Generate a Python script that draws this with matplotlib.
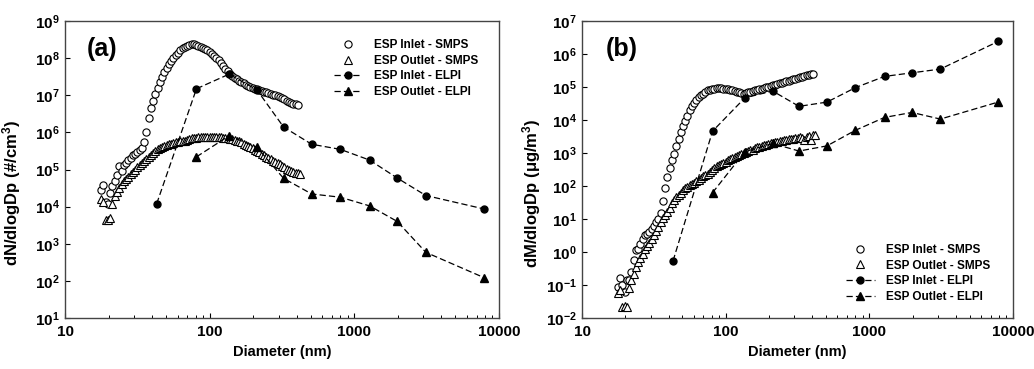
import matplotlib
matplotlib.use("Agg")
import matplotlib.pyplot as plt
from matplotlib.ticker import FuncFormatter, LogLocator, NullFormatter

plt.rcParams['font.family'] = ['Liberation Sans', 'DejaVu Sans']
plt.rcParams['font.weight'] = 'bold'
plt.rcParams['axes.labelweight'] = 'bold'
plt.rcParams['mathtext.fontset'] = 'custom'
plt.rcParams['mathtext.rm'] = 'Liberation Sans:bold'
plt.rcParams['mathtext.bf'] = 'Liberation Sans:bold'
plt.rcParams['mathtext.default'] = 'bf'

# SMPS channel diameters (nm)
smps_d = [17.7, 18.4, 19.1, 19.8, 20.5, 21.2, 22.0, 22.9, 23.7, 24.6,
          25.5, 26.4, 27.4, 28.4, 29.4, 30.5, 31.6, 32.8, 34.0, 35.2,
          36.5, 37.9, 39.2, 40.7, 42.2, 43.7, 45.3, 47.0, 48.7, 50.5,
          52.3, 54.2, 56.2, 58.3, 60.4, 62.6, 64.9, 67.3, 69.8, 72.3,
          75.0, 77.7, 80.6, 83.5, 86.6, 89.8, 93.1, 96.5, 100.0, 103.7,
          107.5, 111.4, 115.5, 119.7, 124.1, 128.6, 133.2, 138.2, 143.3, 148.6,
          154.0, 159.6, 165.5, 171.5, 177.8, 184.4, 191.1, 198.1, 205.4, 212.9,
          220.7, 228.8, 237.2, 245.8, 254.8, 264.2, 273.8, 283.9, 294.3, 305.1,
          316.2, 327.8, 339.8, 352.3, 365.2, 378.6, 392.4, 406.8, 421.7]

# ELPI stage diameters (nm)
elpi_d = [43, 81, 136, 212, 324, 507, 800, 1275, 1980, 3120, 7870]

# (a) number distributions, dN/dlogDp (#/cm3)
n_in_smps = [2.8e4, 3.8e4, 1.3e4, 1.2e4, 2.3e4, 3.5e4, 5.0e4, 7.0e4, 1.26e5, 9.0e4,
             1.3e5, 1.5e5, 1.8e5, 2.1e5, 2.4e5, 2.6e5, 3.0e5, 3.4e5, 3.9e5, 5.5e5,
             1.0e6, 2.5e6, 4.5e6, 7.0e6, 1.1e7, 1.6e7, 2.3e7, 3.2e7, 4.2e7, 5.3e7,
             6.8e7, 8.3e7, 1.0e8, 1.2e8, 1.4e8, 1.65e8, 1.85e8, 2.0e8, 2.15e8, 2.3e8,
             2.35e8, 2.35e8, 2.25e8, 2.15e8, 2.05e8, 1.9e8, 1.8e8, 1.65e8, 1.5e8, 1.3e8,
             1.15e8, 1.0e8, 8.7e7, 7.6e7, 6.3e7, 5.2e7, 4.4e7, 3.7e7, 3.3e7, 2.95e7,
             2.7e7, 2.45e7, 2.3e7, 2.1e7, 1.95e7, 1.8e7, 1.7e7, 1.6e7, 1.5e7, 1.45e7,
             1.38e7, 1.32e7, 1.26e7, 1.2e7, 1.15e7, 1.1e7, 1.05e7, 1.0e7, 9.5e6, 9.1e6,
             8.3e6, 7.8e6, 7.2e6, 6.8e6, 6.3e6, 6.0e6, 5.8e6, 5.4e6]
n_out_smps = [1.6e4, 1.3e4, 4.5e3, 4.3e3, 5.0e3, 1.2e4, 2.0e4, 2.5e4, 3.2e4, 4.0e4,
              4.8e4, 5.6e4, 6.5e4, 7.6e4, 8.7e4, 1.0e5, 1.15e5, 1.3e5, 1.5e5, 1.7e5,
              1.9e5, 2.15e5, 2.4e5, 2.8e5, 3.2e5, 3.5e5, 3.7e5, 4.0e5, 4.3e5, 4.6e5,
              4.8e5, 5.0e5, 5.2e5, 5.4e5, 5.6e5, 5.75e5, 5.9e5, 6.0e5, 6.3e5, 6.6e5,
              6.9e5, 7.1e5, 7.2e5, 7.4e5, 7.6e5, 7.6e5, 7.6e5, 7.6e5, 7.6e5, 7.6e5,
              7.6e5, 7.4e5, 7.4e5, 7.4e5, 7.2e5, 7.1e5, 6.9e5, 6.8e5, 6.6e5, 6.3e5,
              6.0e5, 5.75e5, 5.4e5, 5.0e5, 4.6e5, 4.3e5, 4.0e5, 3.7e5, 3.4e5, 3.2e5,
              2.9e5, 2.6e5, 2.4e5, 2.2e5, 2.05e5, 1.9e5, 1.75e5, 1.6e5, 1.5e5, 1.4e5,
              1.25e5, 1.2e5, 1.05e5, 1.0e5, 9.3e4, 8.7e4, 8.3e4, 8.0e4, 7.6e4]
n_in_elpi = [1.2e4, 1.5e7, 3.7e7, 1.4e7, 1.4e6, 4.8e5, 3.5e5, 1.8e5, 5.9e4, 2.0e4, 8.7e3]
n_out_elpi = [None, 2.2e5, 8.1e5, 4.0e5, 5.8e4, 2.2e4, 1.8e4, 1.05e4, 4.0e3, 5.9e2, 1.23e2]

# (b) mass distributions, dM/dlogDp (ug/m3)
m_in_smps = [0.09, 0.16, 0.1, 0.06, 0.14, 0.14, 0.25, 0.58, 1.12, 1.26,
             1.8, 2.5, 3.2, 3.5, 4.0, 5.0, 6.3, 7.9, 10.0, 15.8,
             35.0, 89.0, 190.0, 355.0, 600.0, 950.0, 1.6e3, 2.7e3, 4.4e3, 6.6e3,
             9.5e3, 1.35e4, 2.0e4, 2.7e4, 3.4e4, 4.1e4, 4.9e4, 5.6e4, 6.3e4, 7.2e4,
             7.9e4, 8.3e4, 8.7e4, 8.9e4, 9.1e4, 9.1e4, 9.1e4, 8.9e4, 8.7e4, 8.5e4,
             8.1e4, 7.9e4, 7.6e4, 7.2e4, 6.9e4, 6.6e4, 6.3e4, 6.6e4, 6.9e4, 7.2e4,
             7.6e4, 7.9e4, 8.3e4, 8.5e4, 8.9e4, 9.3e4, 9.8e4, 1.02e5, 1.07e5, 1.12e5,
             1.17e5, 1.23e5, 1.29e5, 1.35e5, 1.41e5, 1.48e5, 1.55e5, 1.62e5, 1.7e5, 1.78e5,
             1.86e5, 1.95e5, 2.04e5, 2.14e5, 2.24e5, 2.34e5, 2.45e5, 2.57e5]
m_out_smps = [0.056, 0.07, 0.022, 0.024, 0.022, 0.08, 0.14, 0.22, 0.35, 0.5,
              0.66, 0.9, 1.2, 1.5, 1.9, 2.5, 3.2, 4.2, 5.6, 8.3,
              10.5, 13.2, 16.6, 22.4, 30.0, 38.0, 46.0, 55.0, 63.0, 74.0,
              85.0, 93.0, 105.0, 115.0, 126.0, 141.0, 158.0, 178.0, 200.0, 219.0,
              240.0, 263.0, 316.0, 355.0, 398.0, 427.0, 457.0, 501.0, 550.0, 603.0,
              661.0, 724.0, 776.0, 832.0, 891.0, 955.0, 1.0e3, 1.07e3, 1.15e3, 1.2e3,
              1.26e3, 1.38e3, 1.48e3, 1.55e3, 1.62e3, 1.7e3, 1.78e3, 1.86e3, 1.95e3, 2.04e3,
              2.14e3, 2.19e3, 2.29e3, 2.4e3, 2.45e3, 2.5e3, 2.63e3, 2.7e3, 2.75e3, 2.82e3,
              2.95e3, 3.16e3, 2.82e3, 2.5e3, 3.16e3, 3.4e3, 2.5e3, 3.5e3, 3.6e3]
m_in_elpi = [0.54, 4.6e3, 4.7e4, 7.6e4, 2.6e4, 3.5e4, 9.6e4, 2.1e5, 2.7e5, 3.5e5, 2.4e6]
m_out_elpi = [None, 63.0, 1.1e3, 1.95e3, 1.15e3, 1.65e3, 4.9e3, 1.2e4, 1.7e4, 1.07e4, 3.5e4]

labels = ["ESP Inlet - SMPS", "ESP Outlet - SMPS", "ESP Inlet - ELPI", "ESP Outlet - ELPI"]

fig = plt.figure(figsize=(10.34, 3.69), dpi=100)
ax0 = fig.add_axes([0.0629, 0.138, 0.4197, 0.805])
ax1 = fig.add_axes([0.5629, 0.138, 0.4168, 0.805])


def draw(ax, in_smps, out_smps, in_elpi, out_elpi):
    ax.plot(smps_d[:len(in_smps)], in_smps, "o", mfc="white", mec="black", mew=0.8,
            markersize=5.2, linestyle="none", label=labels[0], zorder=3)
    ax.plot(smps_d[:len(out_smps)], out_smps, "^", mfc="white", mec="black", mew=0.8,
            markersize=5.2, linestyle="none", label=labels[1], zorder=3)
    ax.plot(elpi_d, in_elpi, "o", color="black", markersize=5, linestyle=(0, (5, 2.5)),
            lw=0.9, label=labels[2], zorder=4)
    xo = [d for d, v in zip(elpi_d, out_elpi) if v is not None]
    yo = [v for v in out_elpi if v is not None]
    ax.plot(xo, yo, "^", color="black", markersize=5.5, linestyle=(0, (5, 2.5)),
            lw=0.9, label=labels[3], zorder=4)
    ax.set_xscale("log")
    ax.set_yscale("log")
    ax.set_xlim(10, 10000)
    ax.xaxis.set_major_formatter(FuncFormatter(lambda v, p: f"{v:g}"))
    ax.xaxis.set_minor_formatter(NullFormatter())
    ax.yaxis.set_minor_locator(LogLocator(base=10, subs=[], numticks=20))
    ax.tick_params(axis="both", which="major", direction="in", length=3.5, width=0.8,
                   labelsize=11, top=False, right=False)
    ax.tick_params(axis="x", which="major", pad=5)
    ax.tick_params(axis="y", which="major", pad=4)
    ax.tick_params(axis="x", which="minor", direction="in", length=2, width=0.7, top=False)
    for s in ax.spines.values():
        s.set_color("#444444")
        s.set_linewidth(1.0)
    ax.set_xlabel("Diameter (nm)", fontsize=10.5, labelpad=4)


draw(ax0, n_in_smps, n_out_smps, n_in_elpi, n_out_elpi)
ax0.set_ylim(10, 1e9)
ax0.yaxis.set_major_locator(LogLocator(base=10, numticks=20))
ax0.set_ylabel("dN/dlogDp (#/cm$^3$)", fontsize=12)
ax0.yaxis.set_label_coords(-0.097, 0.42)
ax0.text(0.05, 0.905, "(a)", transform=ax0.transAxes, fontsize=18, fontweight="bold",
         va="center", ha="left")
ax0.legend(loc="upper left", bbox_to_anchor=(0.62, 0.94), frameon=False, fontsize=8.5,
           handlelength=2.4, handletextpad=1.0, labelspacing=0.32, borderpad=0,
           borderaxespad=0)

draw(ax1, m_in_smps, m_out_smps, m_in_elpi, m_out_elpi)
ax1.set_ylim(1e-2, 1e7)
ax1.yaxis.set_major_locator(LogLocator(base=10, numticks=20))
ax1.set_ylabel("dM/dlogDp (\u03bcg/m$^3$)", fontsize=12)
ax1.yaxis.set_label_coords(-0.09, 0.42)
ax1.text(0.056, 0.905, "(b)", transform=ax1.transAxes, fontsize=18, fontweight="bold",
         va="center", ha="left")
ax1.legend(loc="upper left", bbox_to_anchor=(0.613, 0.25), frameon=False, fontsize=8.5,
           handlelength=2.4, handletextpad=1.0, labelspacing=0.32, borderpad=0,
           borderaxespad=0)

fig.savefig("out.png", dpi=100)
